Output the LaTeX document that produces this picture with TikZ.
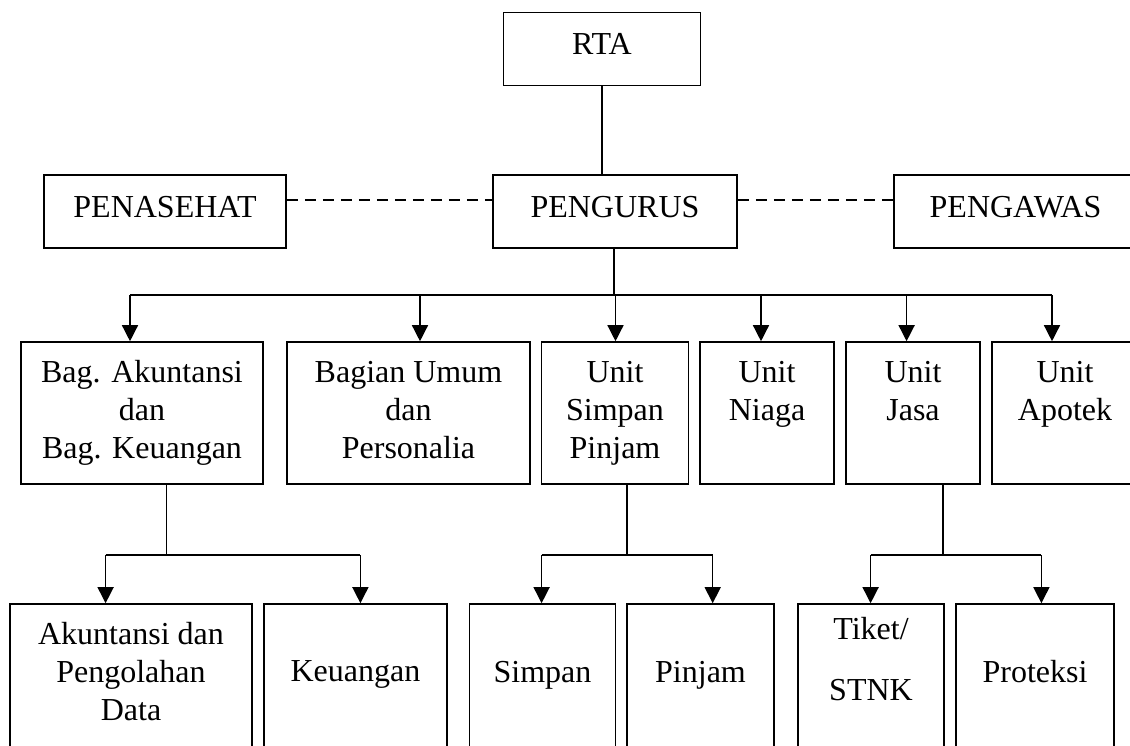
\documentclass[tikz,border=0pt]{standalone}
\usepackage{fontspec}
\setmainfont{Liberation Serif}
\usetikzlibrary{arrows.meta}
\newcommand{\kosong}{\rule[-7pt]{0pt}{7pt}}
\newcommand{\turun}{\rule[-25pt]{0pt}{25pt}}
\tikzset{
  kotak/.style={draw, line width=1.6pt, inner sep=0pt, font=\fontsize{32}{38}\selectfont},
  atas/.style={kotak, minimum height=73pt, text depth=10pt},
  bidang/.style={kotak, minimum height=142pt, align=center},
  seksi/.style={kotak, minimum height=160pt, align=center},
  garis/.style={line width=1.4pt},
  panah/.style={garis, -{Triangle[length=16pt,width=16pt]}},
  putus/.style={line width=1.2pt, dash pattern=on 11pt off 7pt}
}
\begin{document}
\begin{tikzpicture}[x=1pt,y=-1pt]
    \path[use as bounding box] (0,0) rectangle (1130,745);
    \clip (0,0) rectangle (1130,745);
    %top boxes
    \node[atas, minimum width=197pt] (rta) at (602,49) {RTA};
    \node[atas, minimum width=242pt] (penasehat) at (165,211.5) {PENASEHAT};
    \node[atas, minimum width=244pt] (pengurus) at (615,211.5) {PENGURUS};
    \node[atas, minimum width=243pt] (pengawas) at (1015.5,211.5) {PENGAWAS};
    %second row
    \node[bidang, minimum width=242pt] (bagak) at (142,413) {Bag. Akuntansi\\dan\\Bag. Keuangan};
    \node[bidang, minimum width=243pt] (bagum) at (408.5,413) {Bagian Umum\\dan\\Personalia\kosong};
    \node[bidang, minimum width=147pt] (usp) at (615,413) {Unit\\Simpan\\Pinjam};
    \node[bidang, minimum width=134pt] (niaga) at (767,413) {Unit\\Niaga\\\kosong};
    \node[bidang, minimum width=134pt] (jasa) at (913,413) {Unit\\Jasa\\\kosong};
    \node[bidang, minimum width=146pt] (apotek) at (1065,413) {Unit\\Apotek\\\kosong};
    %third row (runs off the bottom)
    \node[seksi, minimum width=242pt] (akdata) at (131,684) {Akuntansi dan\\Pengolahan\\Data\turun};
    \node[seksi, minimum width=183pt] (keuangan) at (355.5,684) {Keuangan\turun};
    \node[seksi, minimum width=146pt] (simpan) at (542.5,684) {Simpan\turun};
    \node[seksi, minimum width=147pt] (pinjam) at (700.5,684) {Pinjam\turun};
    \node[seksi, minimum width=146pt] (tiket) at (871,684) {Tiket/\\[23pt]STNK\rule[-51pt]{0pt}{51pt}};
    \node[seksi, minimum width=158pt] (proteksi) at (1035,684) {Proteksi\turun};
    %dashed lines
    \draw[putus] ([yshift=11.5pt]penasehat.east) -- ([yshift=11.5pt]pengurus.west);
    \draw[putus] ([yshift=11.5pt]pengurus.east) -- ([yshift=11.5pt]pengawas.west);
    %lines to second row
    \coordinate (bus) at (614,295);
    \draw[garis] (rta.south) -- (pengurus.north -| rta.south);
    \draw[garis] (pengurus.south -| bus) -- (bus);
    \draw[garis] (130,295) -- (1052,295);
    \foreach \n/\x in {bagak/130, bagum/420, usp/615.5, niaga/761, jasa/906.6, apotek/1052}
      \draw[panah] (\x,295) -- (\n.north -| \x,0);
    %lines to third row
    \foreach \induk/\xa/\kiri/\xb/\kanan/\xc in {bagak/166.5/akdata/105.6/keuangan/360.4, usp/627/simpan/541.6/pinjam/712.7, jasa/943/tiket/870.6/proteksi/1041.4}
    {
      \draw[garis] (\induk.south -| \xa,0) -- (\xa,555);
      \draw[garis] (\xb,555) -- (\xc,555);
      \draw[panah] (\xb,555) -- (\kiri.north -| \xb,0);
      \draw[panah] (\xc,555) -- (\kanan.north -| \xc,0);
    }
\end{tikzpicture}
\end{document}
